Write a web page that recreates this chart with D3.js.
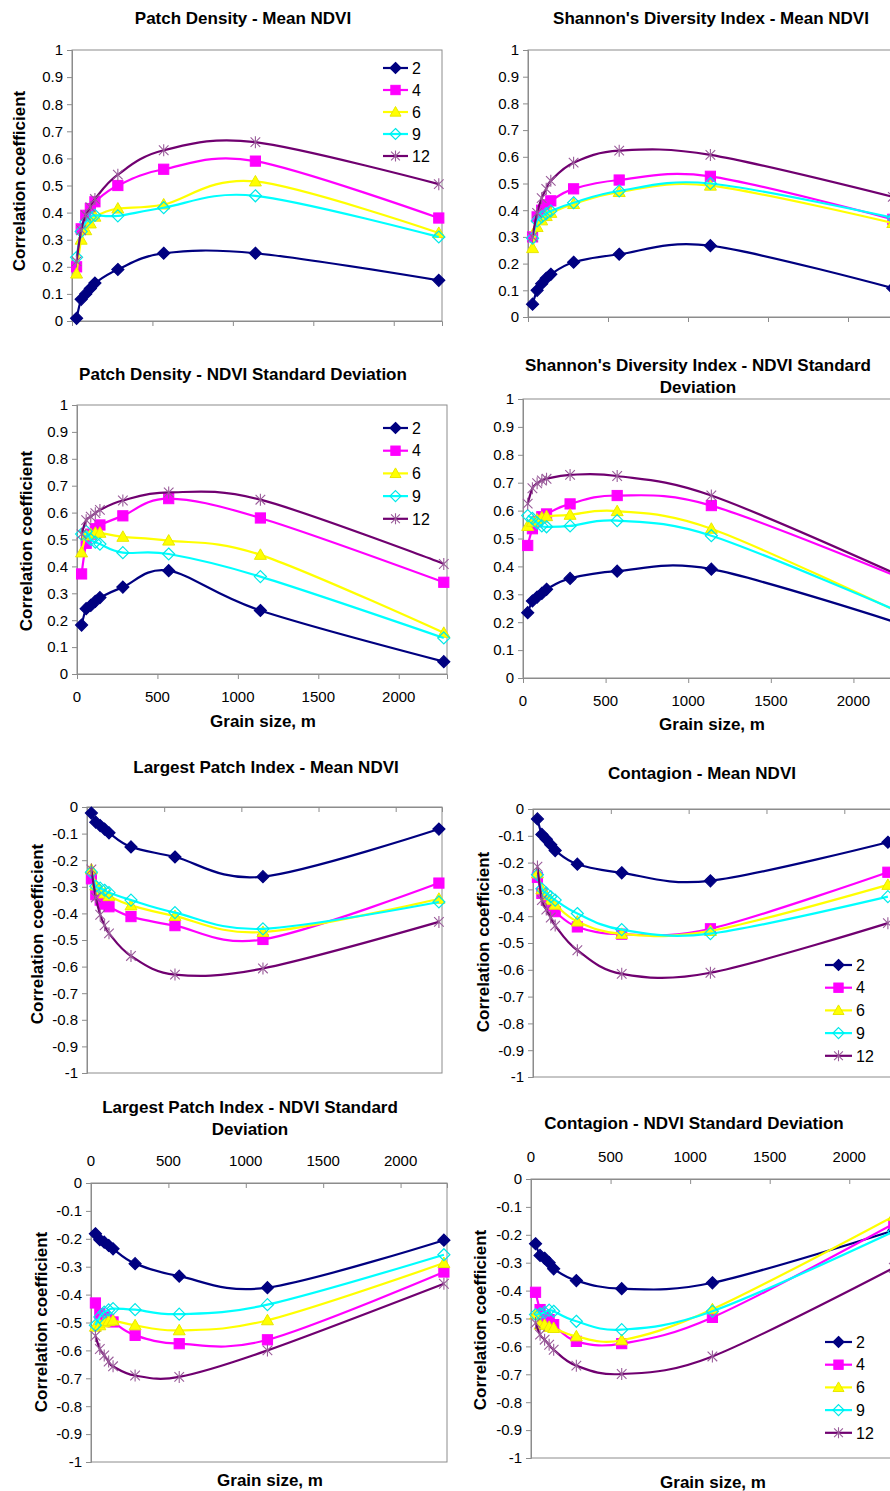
<!DOCTYPE html>
<html>
<head>
<meta charset="utf-8">
<script src="https://cdn.jsdelivr.net/npm/d3@7"></script>
<style>
body { margin: 0; background: #fff; }
text { font-family: "Liberation Sans", Arial, sans-serif; fill: #000; }
</style>
</head>
<body>
<svg id="chart" width="890" height="1491"></svg>
<script>
// Grain sizes (m) shared by all panels
const grainSizes = [28.5, 57, 85.5, 114, 142.5, 285, 570, 1140, 2280];
const seriesNames = ["2", "4", "6", "9", "12"];
const xTicks = [0, 500, 1000, 1500, 2000];
const yTicksPos = [0, 0.1, 0.2, 0.3, 0.4, 0.5, 0.6, 0.7, 0.8, 0.9, 1];
const yLabelsPos = ["0", "0.1", "0.2", "0.3", "0.4", "0.5", "0.6", "0.7", "0.8", "0.9", "1"];
const yTicksNeg = [0, -0.1, -0.2, -0.3, -0.4, -0.5, -0.6, -0.7, -0.8, -0.9, -1];
const yLabelsNeg = ["0", "-0.1", "-0.2", "-0.3", "-0.4", "-0.5", "-0.6", "-0.7", "-0.8", "-0.9", "-1"];

// one row per series (2, 4, 6, 9, 12)
const pdMeanNdvi = [
    [0.01, 0.08, 0.10, 0.12, 0.14, 0.19, 0.25, 0.25, 0.15],
    [0.20, 0.34, 0.39, 0.415, 0.44, 0.50, 0.56, 0.59, 0.38],
    [0.175, 0.30, 0.335, 0.36, 0.385, 0.415, 0.43, 0.515, 0.325],
    [0.235, 0.33, 0.365, 0.383, 0.39, 0.388, 0.418, 0.462, 0.31],
    [0.22, 0.335, 0.39, 0.42, 0.45, 0.54, 0.63, 0.66, 0.505]
];
const shdiMeanNdvi = [
    [0.048, 0.10, 0.125, 0.145, 0.16, 0.205, 0.235, 0.267, 0.108],
    [0.30, 0.375, 0.40, 0.42, 0.435, 0.48, 0.513, 0.527, 0.366],
    [0.258, 0.337, 0.362, 0.378, 0.39, 0.423, 0.468, 0.492, 0.352],
    [0.295, 0.36, 0.375, 0.387, 0.397, 0.428, 0.472, 0.50, 0.372],
    [0.30, 0.39, 0.445, 0.48, 0.51, 0.578, 0.623, 0.607, 0.45]
];
const pdSdNdvi = [
    [0.182, 0.243, 0.255, 0.27, 0.284, 0.323, 0.384, 0.236, 0.046],
    [0.372, 0.486, 0.52, 0.54, 0.554, 0.588, 0.652, 0.58, 0.341],
    [0.452, 0.515, 0.52, 0.525, 0.525, 0.51, 0.496, 0.443, 0.153],
    [0.52, 0.53, 0.50, 0.49, 0.483, 0.451, 0.446, 0.362, 0.134],
    [0.52, 0.572, 0.585, 0.598, 0.61, 0.645, 0.675, 0.648, 0.409]
];
const shdiSdNdvi = [
    [0.234, 0.276, 0.29, 0.303, 0.318, 0.357, 0.383, 0.39, 0.195],
    [0.475, 0.535, 0.56, 0.578, 0.588, 0.624, 0.654, 0.618, 0.36],
    [0.545, 0.56, 0.568, 0.575, 0.58, 0.585, 0.598, 0.535, 0.234],
    [0.582, 0.572, 0.556, 0.545, 0.542, 0.545, 0.564, 0.51, 0.237],
    [0.625, 0.68, 0.698, 0.708, 0.714, 0.728, 0.724, 0.654, 0.367]
];
const lpiMeanNdvi = [
    [-0.023, -0.057, -0.07, -0.083, -0.097, -0.15, -0.188, -0.262, -0.083],
    [-0.27, -0.33, -0.35, -0.365, -0.375, -0.412, -0.446, -0.498, -0.286],
    [-0.235, -0.295, -0.312, -0.325, -0.335, -0.37, -0.41, -0.47, -0.345],
    [-0.245, -0.298, -0.305, -0.313, -0.322, -0.35, -0.397, -0.458, -0.357],
    [-0.235, -0.34, -0.405, -0.445, -0.475, -0.56, -0.63, -0.607, -0.432]
];
const contagMeanNdvi = [
    [-0.037, -0.095, -0.113, -0.133, -0.155, -0.206, -0.238, -0.268, -0.124],
    [-0.255, -0.315, -0.34, -0.362, -0.383, -0.44, -0.467, -0.447, -0.236],
    [-0.24, -0.30, -0.322, -0.34, -0.357, -0.42, -0.466, -0.455, -0.283],
    [-0.245, -0.298, -0.314, -0.327, -0.34, -0.39, -0.45, -0.465, -0.327],
    [-0.215, -0.34, -0.375, -0.405, -0.435, -0.527, -0.615, -0.611, -0.426]
];
const lpiSdNdvi = [
    [-0.182, -0.203, -0.212, -0.224, -0.236, -0.289, -0.334, -0.375, -0.205],
    [-0.43, -0.468, -0.48, -0.49, -0.498, -0.546, -0.576, -0.562, -0.319],
    [-0.515, -0.51, -0.5, -0.495, -0.493, -0.51, -0.528, -0.492, -0.287],
    [-0.51, -0.48, -0.463, -0.455, -0.45, -0.454, -0.47, -0.436, -0.257],
    [-0.548, -0.595, -0.618, -0.64, -0.657, -0.69, -0.695, -0.60, -0.361]
];
const contagSdNdvi = [
    [-0.232, -0.274, -0.284, -0.3, -0.322, -0.364, -0.393, -0.372, -0.184],
    [-0.406, -0.468, -0.492, -0.504, -0.522, -0.582, -0.59, -0.496, -0.16],
    [-0.486, -0.522, -0.522, -0.53, -0.534, -0.564, -0.578, -0.467, -0.133],
    [-0.486, -0.483, -0.478, -0.47, -0.474, -0.51, -0.54, -0.474, -0.188],
    [-0.516, -0.558, -0.576, -0.594, -0.612, -0.669, -0.699, -0.636, -0.318]
];

const styles = [
    { line: "#000080", shape: "diamond", fill: "#000080", stroke: "#000080" },
    { line: "#ff00ff", shape: "square", fill: "#ff00ff", stroke: "#ff00ff" },
    { line: "#ffff00", shape: "triangle", fill: "#ffff00", stroke: "#e8e800" },
    { line: "#00ffff", shape: "diamond", fill: "none", stroke: "#00e8e8" },
    { line: "#700070", shape: "star", fill: "none", stroke: "#9a5c9a" }
];

// layout of the 8 panels
const panels = [
    { title: ["Patch Density - Mean NDVI"], tx: 243, ty: [18], data: pdMeanNdvi, neg: false,
      left: 72, top: 50, width: 370, bottom: 321, yTitle: [19, 181], legend: [383, 408, 68, 22] },
    { title: ["Shannon's Diversity Index - Mean NDVI"], tx: 711, ty: [18], data: shdiMeanNdvi, neg: false,
      left: 528, top: 50, width: 368, bottom: 317 },
    { title: ["Patch Density - NDVI Standard Deviation"], tx: 243, ty: [374], data: pdSdNdvi, neg: false,
      left: 77, top: 405, width: 370, bottom: 674, xLabels: true, grain: [263, 721], yTitle: [26, 541],
      legend: [383, 408, 428, 22.7] },
    { title: ["Shannon's Diversity Index - NDVI Standard", "Deviation"], tx: 698, ty: [365, 387], data: shdiSdNdvi, neg: false,
      left: 523, top: 399, width: 380, bottom: 678, xLabels: true, grain: [712, 724] },
    { title: ["Largest Patch Index - Mean NDVI"], tx: 266, ty: [767], data: lpiMeanNdvi, neg: true,
      left: 87, top: 807, width: 355, bottom: 1073, yTitle: [37, 934] },
    { title: ["Contagion - Mean NDVI"], tx: 702, ty: [773], data: contagMeanNdvi, neg: true,
      left: 533, top: 809, width: 358, bottom: 1077, yTitle: [483, 942], legend: [825, 852, 965, 22.7] },
    { title: ["Largest Patch Index - NDVI Standard", "Deviation"], tx: 250, ty: [1107, 1129], data: lpiSdNdvi, neg: true,
      left: 91, top: 1183, width: 356, bottom: 1462, xLabels: true, grain: [270, 1480], yTitle: [41, 1322] },
    { title: ["Contagion - NDVI Standard Deviation"], tx: 694, ty: [1123], data: contagSdNdvi, neg: true,
      left: 531, top: 1179, width: 366, bottom: 1458, xLabels: true, grain: [713, 1482], yTitle: [480, 1320],
      legend: [825, 852, 1342, 22.7] }
];

const svg = d3.select("#chart");

function drawMarker(g, st, r) {
    if (st.shape === "diamond") {
        g.append("path").attr("d", `M0,${-r}L${r},0L0,${r}L${-r},0Z`)
            .attr("fill", st.fill).attr("stroke", st.stroke).attr("stroke-width", 1.2);
    } else if (st.shape === "square") {
        const s = r * 0.85;
        g.append("rect").attr("x", -s).attr("y", -s).attr("width", 2 * s).attr("height", 2 * s)
            .attr("fill", st.fill).attr("stroke", st.stroke);
    } else if (st.shape === "triangle") {
        g.append("path").attr("d", `M0,${-r}L${r},${r * 0.75}L${-r},${r * 0.75}Z`)
            .attr("fill", st.fill).attr("stroke", st.stroke);
    } else {
        const a = r * 0.8;
        g.append("path").attr("d", `M${-a},${-a}L${a},${a}M${-a},${a}L${a},${-a}M0,${-r}L0,${r}`)
            .attr("fill", "none").attr("stroke", st.stroke).attr("stroke-width", 1.1);
    }
}

panels.forEach(p => {
    const g = svg.append("g");
    const x = d3.scaleLinear().domain([0, 2300]).range([p.left, p.left + p.width]);
    const y = d3.scaleLinear().domain(p.neg ? [-1, 0] : [0, 1]).range([p.bottom, p.top]);

    // title
    const t = g.append("text").attr("text-anchor", "middle")
        .style("font-size", "17px").style("font-weight", "bold");
    p.title.forEach((line, i) => {
        t.append("tspan").attr("x", p.tx).attr("y", p.ty[i]).attr("dy", "0.36em").text(line);
    });

    // plot area frame
    g.append("rect").attr("x", p.left).attr("y", p.top)
        .attr("width", p.width).attr("height", p.bottom - p.top)
        .attr("fill", "none").attr("stroke", "#8c8c8c");

    // y axis
    const yAx = g.append("g").attr("transform", `translate(${p.left},0)`)
        .call(d3.axisLeft(y)
            .tickValues(p.neg ? yTicksNeg : yTicksPos)
            .tickFormat((d, i) => (p.neg ? yLabelsNeg : yLabelsPos)[i])
            .tickSize(5).tickPadding(4));
    yAx.selectAll("path, line").attr("stroke", "#8c8c8c");
    yAx.selectAll("text").style("font-size", "15px").attr("fill", "#000")
        .style("font-family", "'Liberation Sans', Arial, sans-serif");

    // x axis ticks, at y = 0 (bottom for positive panels, top for negative ones)
    const xAx = g.append("g").attr("transform", `translate(0,${y(0)})`)
        .call(d3.axisBottom(x).tickValues(xTicks).tickFormat("").tickSize(5));
    xAx.selectAll("path, line").attr("stroke", "#8c8c8c");

    if (p.xLabels) {
        const ly = p.neg ? p.top - 22 : p.bottom + 23;
        g.selectAll(null).data(xTicks).enter().append("text")
            .attr("x", d => x(d)).attr("y", ly).attr("dy", "0.36em")
            .attr("text-anchor", "middle").style("font-size", "15px")
            .text(d => d);
    }
    if (p.grain) {
        g.append("text").attr("x", p.grain[0]).attr("y", p.grain[1]).attr("dy", "0.36em")
            .attr("text-anchor", "middle").style("font-size", "17px").style("font-weight", "bold")
            .text("Grain size, m");
    }
    if (p.yTitle) {
        g.append("text")
            .attr("transform", `translate(${p.yTitle[0]},${p.yTitle[1]}) rotate(-90)`)
            .attr("dy", "0.36em").attr("text-anchor", "middle")
            .style("font-size", "17px").style("font-weight", "bold")
            .text("Correlation coefficient");
    }

    // series
    const line = d3.line()
        .x(d => x(d[0])).y(d => y(d[1]))
        .curve(d3.curveCardinal.tension(0));
    p.data.forEach((vals, si) => {
        const st = styles[si];
        const pts = grainSizes.map((gs, i) => [gs, vals[i]]);
        g.append("path").datum(pts).attr("d", line)
            .attr("fill", "none").attr("stroke", st.line).attr("stroke-width", 2.2);
        pts.forEach(d => {
            const mg = g.append("g").attr("transform", `translate(${x(d[0])},${y(d[1])})`);
            drawMarker(mg, st, 6);
        });
    });

    // legend
    if (p.legend) {
        const [lx1, lx2, ly0, step] = p.legend;
        seriesNames.forEach((name, si) => {
            const st = styles[si];
            const yy = ly0 + si * step;
            g.append("line").attr("x1", lx1).attr("x2", lx2).attr("y1", yy).attr("y2", yy)
                .attr("stroke", st.line).attr("stroke-width", 2.2);
            const mg = g.append("g").attr("transform", `translate(${(lx1 + lx2) / 2},${yy})`);
            drawMarker(mg, st, 5.5);
            g.append("text").attr("x", lx2 + 4).attr("y", yy).attr("dy", "0.36em")
                .style("font-size", "16px").text(name);
        });
    }
});
</script>
</body>
</html>
